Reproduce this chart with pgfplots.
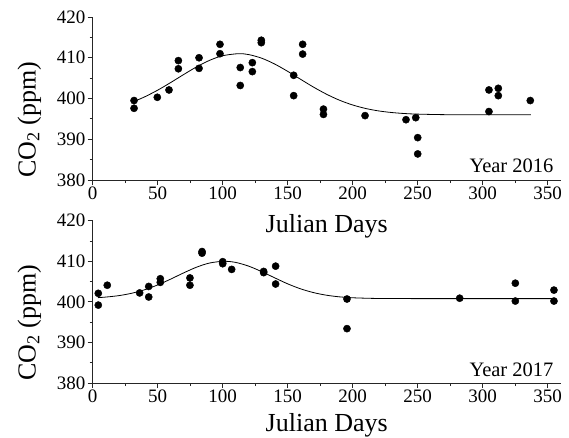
\documentclass[border=0pt]{standalone}
\usepackage{fontspec}
\setmainfont{Liberation Serif}
\usepackage{pgfplots}
\pgfplotsset{compat=1.18}

\newcommand{\ticksize}{\fontsize{19}{21}\selectfont}
\newcommand{\labsize}{\fontsize{26}{28}\selectfont}
\newcommand{\yearsize}{\fontsize{20.5}{22}\selectfont}

\pgfplotsset{
  co2 panel/.style={
    scale only axis,
    width=468pt,
    axis x line=bottom, axis y line=left,
    axis line style={-, line width=1pt, black!85},
    xmin=0, xmax=360, ymin=380, ymax=420,
    xtick={0,50,...,350}, ytick={380,390,...,420},
    minor x tick num=1, minor y tick num=1,
    tick align=outside,
    major tick length=5pt, minor tick length=3pt,
    tick style={line width=0.9pt, black!85},
    /pgf/number format/assume math mode=true,
    tick label style={font=\ticksize},
    xticklabel style={inner sep=2pt},
    yticklabel style={inner sep=2pt},
    xlabel={Julian Days},
    ylabel={CO\textsubscript{2} (ppm)},
    ylabel style={font=\labsize, at={(axis description cs:-0.122,0.37)}, anchor=base},
    clip=false,
  },
  obs/.style={only marks, mark=*, mark size=3.6pt, black},
  fit/.style={no marks, smooth, line width=0.8pt, black},
}

\begin{document}
\begin{tikzpicture}
\path[use as bounding box] (0,0) rectangle (569pt,-437pt);

% 2016
\begin{axis}[co2 panel, height=163pt, at={(92.7pt,-180pt)}, anchor=south west,
  xlabel style={font=\labsize, at={(axis description cs:0.5,0)}, anchor=base, yshift=-52.7pt}]
\addplot[fit] coordinates {
  (32,399.31) (40,400.41) (50,402.05) (60,403.92) (70,405.89) (80,407.78)
  (90,409.38) (100,410.50) (112,411.00) (120,410.78) (130,409.89) (140,408.46)
  (150,406.66) (160,404.70) (170,402.77) (180,401.03) (190,399.56) (200,398.41)
  (210,397.55) (220,396.95) (230,396.56) (240,396.31) (250,396.17) (270,396.04)
  (300,396.00) (337,396.00)
};
\addplot[obs] coordinates {
  (31.8,399.5) (31.8,397.6) (49.7,400.3) (58.7,402.1) (65.9,409.3) (65.9,407.3)
  (81.8,410.0) (81.8,407.4) (97.9,413.3) (97.9,411.0) (113.5,407.6) (113.5,403.2)
  (122.8,408.8) (122.8,406.6) (129.7,414.3) (129.7,413.7) (154.6,405.7) (154.6,400.7)
  (161.5,413.3) (161.5,410.9) (177.5,397.4) (177.5,396.1) (209.5,395.8) (241.0,394.8)
  (248.5,395.3) (250.0,390.4) (250.0,386.4) (304.8,402.1) (304.8,396.8) (312.0,402.5)
  (312.0,400.7) (336.6,399.5)
};
\node[anchor=base east, font=\yearsize] at (axis description cs:0.992,0.049) {Year 2016};
\end{axis}

% 2017
\begin{axis}[co2 panel, height=162.3pt, at={(92.7pt,-383pt)}, anchor=south west,
  xlabel style={font=\labsize, at={(axis description cs:0.5,0)}, anchor=base, yshift=-48.7pt}]
\addplot[fit] coordinates {
  (4,401.04) (10,401.18) (20,401.53) (30,402.12) (40,402.99) (50,404.17)
  (60,405.61) (70,407.15) (80,408.56) (90,409.58) (101,410.00) (110,409.72)
  (120,408.80) (130,407.45) (140,405.92) (150,404.44) (160,403.20) (170,402.27)
  (180,401.63) (190,401.23) (200,401.01) (210,400.90) (220,400.84) (250,400.80)
  (300,400.80) (355,400.80)
};
\addplot[obs] coordinates {
  (4.3,402.1) (4.3,399.2) (11.2,404.1) (36.1,402.2) (43.1,403.8) (43.1,401.2)
  (52.0,405.7) (52.0,404.8) (74.8,405.9) (74.8,404.1) (84.1,412.4) (84.1,412.0)
  (100.0,409.9) (100.0,409.4) (106.9,408.0) (131.5,407.5) (131.5,407.2)
  (140.7,408.8) (140.7,404.4) (195.6,400.7) (195.6,393.4) (282.3,400.9)
  (325.1,404.6) (325.1,400.2) (354.8,402.9) (354.8,400.2)
};
\node[anchor=base east, font=\yearsize] at (axis description cs:0.992,0.043) {Year 2017};
\end{axis}
\end{tikzpicture}
\end{document}
